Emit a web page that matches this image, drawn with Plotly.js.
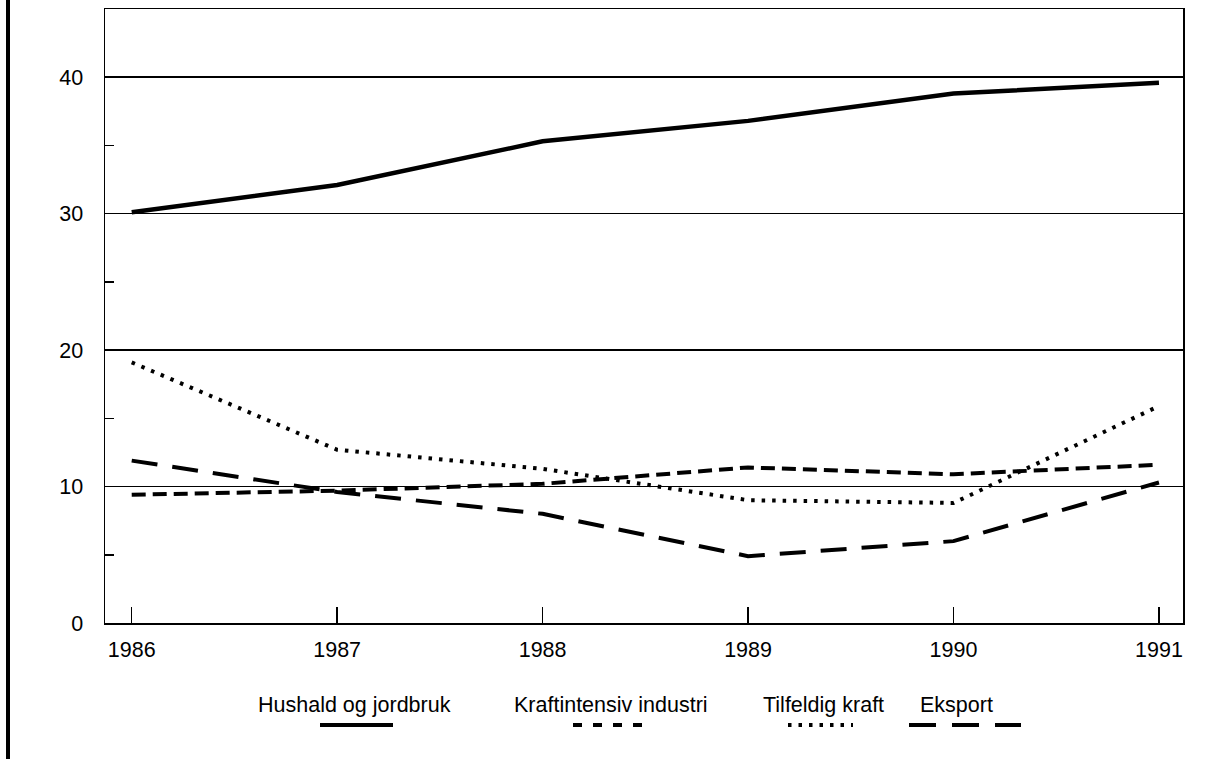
<!DOCTYPE html>
<html>
<head>
<meta charset="utf-8">
<script src="https://cdn.plot.ly/plotly-3.0.1.min.js"></script>
<style>
  html, body { margin: 0; padding: 0; background: #fff; }
  #chart { width: 1218px; height: 759px; }
</style>
</head>
<body>
<div id="chart"></div>
<script>
// ---- Data ----
const years = [1986, 1987, 1988, 1989, 1990, 1991];
const hushald = [30.1, 32.1, 35.3, 36.8, 38.8, 39.6];
const kraftintensiv = [9.4, 9.7, 10.2, 11.4, 10.9, 11.6];
const tilfeldig = [19.1, 12.7, 11.3, 9.0, 8.8, 15.9];
const eksport = [11.9, 9.6, 8.0, 4.9, 6.0, 10.3];
const seriesNames = ["Hushald og jordbruk", "Kraftintensiv industri", "Tilfeldig kraft", "Eksport"];
const yTickVals = [0, 10, 20, 30, 40];

// ---- Styles ----
const FONT = "Liberation Sans, Arial, Helvetica, sans-serif";
const FS = 21.5;
const styles = [
  { width: 4.5, dash: "solid" },
  { width: 4, dash: "14px,7px" },
  { width: 4, dash: "3.5px,7px" },
  { width: 4, dash: "26px,15px" }
];
const seriesValues = [hushald, kraftintensiv, tilfeldig, eksport];

const traces = seriesValues.map((vals, i) => ({
  type: "scatter",
  mode: "lines",
  x: years,
  y: vals,
  name: seriesNames[i],
  line: { color: "#000", width: styles[i].width, dash: styles[i].dash },
  showlegend: false,
  hoverinfo: "skip"
}));

// custom legend: text above, line sample below
const legendCenters = [354, 611, 823, 956];         // px
const legendSamples = [[320, 393], [573, 646], [788, 853], [909, 1021]];
const sampleDash = ["solid", "9px,11px", "3.5px,7px", "27px,16px"];
const L = 105, R = 1183, T = 9, B = 623;
const px2x = p => (p - L) / (R - L);
const py2y = p => (B - p) / (B - T);

const annotations = seriesNames.map((n, i) => ({
  text: n, xref: "paper", yref: "paper",
  x: px2x(legendCenters[i]), y: py2y(705),
  xanchor: "center", yanchor: "middle", showarrow: false,
  font: { family: FONT, size: FS, color: "#000" }
}));

const shapes = seriesNames.map((n, i) => ({
  type: "line", xref: "paper", yref: "paper",
  x0: px2x(legendSamples[i][0]), x1: px2x(legendSamples[i][1]),
  y0: py2y(725), y1: py2y(725),
  line: { color: "#000", width: 4, dash: sampleDash[i] }
}));
// left page border line
shapes.push({
  type: "line", xref: "paper", yref: "paper",
  x0: px2x(8), x1: px2x(8), y0: py2y(0), y1: py2y(759),
  line: { color: "#000", width: 4 }
});

const layout = {
  width: 1218, height: 759,
  margin: { l: L, r: 1218 - R, t: T, b: 759 - B, pad: 0 },
  paper_bgcolor: "#fff", plot_bgcolor: "#fff",
  font: { family: FONT, size: FS, color: "#000" },
  showlegend: false,
  xaxis: {
    range: [1985.87, 1991.117],
    tickmode: "array", tickvals: years, ticktext: years.map(String),
    ticks: "inside", ticklen: 16, tickwidth: 1.5, tickcolor: "#000",
    showline: true, mirror: true, linecolor: "#000", linewidth: 1.5,
    showgrid: false, zeroline: false,
    ticklabelstandoff: 7,
    tickfont: { family: FONT, size: FS, color: "#000" }
  },
  yaxis: {
    range: [0, 45],
    tickmode: "array", tickvals: yTickVals, ticktext: yTickVals.map(String),
    ticks: "inside", ticklen: 9, tickwidth: 1.5, tickcolor: "#000",
    showline: true, mirror: true, linecolor: "#000", linewidth: 1.5,
    showgrid: true, gridcolor: "#000", gridwidth: 1.5,
    zeroline: false,
    ticklabelstandoff: 16,
    minor: { dtick: 5, tick0: 0, ticks: "inside", ticklen: 9, tickwidth: 1.5, tickcolor: "#000", showgrid: false },
    tickfont: { family: FONT, size: FS, color: "#000" }
  },
  annotations: annotations,
  shapes: shapes
};

Plotly.newPlot("chart", traces, layout, { displayModeBar: false, staticPlot: true });
</script>
</body>
</html>
